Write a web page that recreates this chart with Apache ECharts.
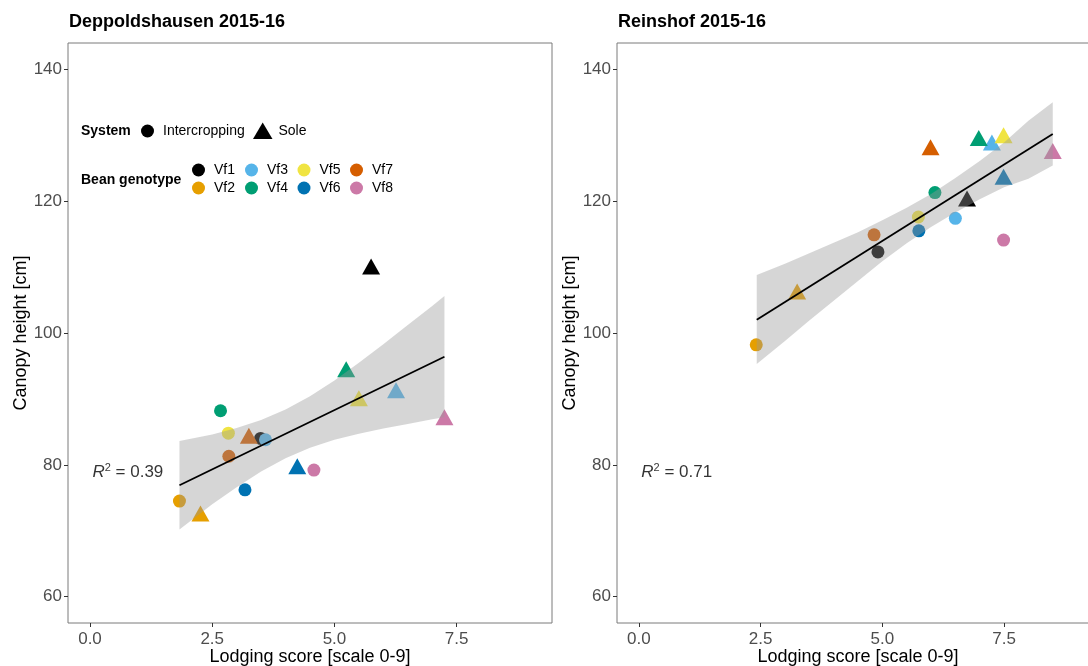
<!DOCTYPE html>
<html><head><meta charset="utf-8">
<script src="https://cdn.jsdelivr.net/npm/echarts@6/dist/echarts.min.js"></script>
<style>html,body{margin:0;padding:0;background:#fff}#c{width:1088px;height:666px}</style>
</head><body><div id="c"></div>
<script>
// ---- data ----
const panelTitles = ['Deppoldshausen 2015-16', 'Reinshof 2015-16'];
const genotypes = ['Vf1','Vf2','Vf3','Vf4','Vf5','Vf6','Vf7','Vf8'];
const genoColors = ['#000000','#E69F00','#56B4E9','#009E73','#F0E442','#0072B2','#D55E00','#CC79A7'];
const xTicks = [0, 2.5, 5, 7.5];
const yTicks = [60, 80, 100, 120, 140];

// Deppoldshausen
const depIntX  = [3.49, 1.83, 3.59, 2.67, 2.83, 3.17, 2.84, 4.58];
const depIntY  = [84.0, 74.5, 83.8, 88.2, 84.8, 76.2, 81.3, 79.2];
const depSoleX = [5.75, 2.26, 6.26, 5.24, 5.50, 4.24, 3.25, 7.25];
const depSoleY = [110.1, 72.6, 91.3, 94.5, 90.1, 79.8, 84.4, 87.2];
const depFitX  = [1.83, 7.25];
const depFitY  = [76.9, 96.4];
const depBandX = [1.83, 2.5, 3.0, 3.5, 4.0, 4.5, 5.0, 5.5, 6.0, 6.5, 7.0, 7.25];
const depBandLo = [70.2, 74.0, 76.6, 79.0, 81.0, 82.6, 83.8, 84.7, 85.5, 86.2, 86.9, 87.2];
const depBandHi = [83.6, 84.6, 85.6, 86.8, 88.4, 90.4, 92.8, 95.5, 98.3, 101.2, 104.1, 105.6];
const depR2 = '0.39';

// Reinshof
const reiIntX  = [4.91, 2.41, 6.50, 6.08, 5.74, 5.75, 4.83, 7.49];
const reiIntY  = [112.3, 98.2, 117.4, 121.3, 117.6, 115.5, 114.9, 114.1];
const reiSoleX = [6.74, 3.25, 7.25, 6.98, 7.49, 7.49, 5.99, 8.50];
const reiSoleY = [120.4, 106.3, 128.9, 129.6, 130.0, 123.7, 128.2, 127.6];
const reiFitX  = [2.42, 8.5];
const reiFitY  = [102.0, 130.2];
const reiBandX = [2.42, 3.0, 3.5, 4.0, 4.5, 5.0, 5.5, 6.0, 6.5, 7.0, 7.5, 8.0, 8.5];
const reiBandLo = [95.3, 98.8, 101.9, 104.9, 107.9, 110.9, 113.6, 116.1, 118.3, 120.3, 122.1, 123.4, 125.4];
const reiBandHi = [108.8, 110.5, 112.1, 113.7, 115.3, 117.1, 119.0, 121.1, 123.5, 126.1, 128.9, 132.2, 135.0];
const reiR2 = '0.71';

// ---- chart ----
const FONT = '"Liberation Sans", Arial, Helvetica, sans-serif';
const chart = echarts.init(document.getElementById('c'), null, {renderer: 'canvas'});

function mkX(gi) {
  return {
    gridIndex: gi, type: 'value', min: -0.45, max: 9.45,
    axisLine: {show: false, onZero: false}, splitLine: {show: false},
    axisTick: {show: true, customValues: xTicks, length: 4, lineStyle: {color: '#333', width: 1}},
    axisLabel: {customValues: xTicks, formatter: v => Number(v).toFixed(1), color: '#4d4d4d',
      fontSize: 17, fontFamily: FONT, margin: 8},
    name: 'Lodging score [scale 0-9]', nameLocation: 'middle', nameGap: 25, nameMoveOverlap: false,
    nameTextStyle: {color: '#000', fontSize: 18, fontFamily: FONT}
  };
}
function mkY(gi) {
  return {
    gridIndex: gi, type: 'value', min: 56, max: 144,
    axisLine: {show: false, onZero: false}, splitLine: {show: false},
    axisTick: {show: true, customValues: yTicks, length: 4, lineStyle: {color: '#333', width: 1}},
    axisLabel: {customValues: yTicks, color: '#4d4d4d', fontSize: 17, fontFamily: FONT, margin: 6},
    name: 'Canopy height [cm]', nameLocation: 'middle', nameGap: 38, nameMoveOverlap: false,
    nameTextStyle: {color: '#000', fontSize: 18, fontFamily: FONT}
  };
}
function scatter(gi, xs, ys, symbol, size) {
  return {
    type: 'scatter', xAxisIndex: gi, yAxisIndex: gi, z: 2, symbol: symbol, symbolSize: size,
    silent: true,
    data: xs.map((x, i) => ({value: [x, ys[i]], name: genotypes[i],
      itemStyle: {color: genoColors[i], opacity: 1}}))
  };
}
function ribbon(gi, xs, lo, hi) {
  return {
    type: 'custom', xAxisIndex: gi, yAxisIndex: gi, z: 3, silent: true,
    data: xs.map((x, i) => [x, lo[i], hi[i]]),
    encode: {x: 0, y: [1, 2]},
    renderItem: function (params, api) {
      if (params.dataIndex !== 0) return null;
      const pts = [];
      for (let i = 0; i < xs.length; i++) pts.push(api.coord([xs[i], hi[i]]));
      for (let i = xs.length - 1; i >= 0; i--) pts.push(api.coord([xs[i], lo[i]]));
      return {type: 'polygon', shape: {points: pts}, style: {fill: '#999999', opacity: 0.4}};
    }
  };
}
function fit(gi, xs, ys) {
  return {
    type: 'line', xAxisIndex: gi, yAxisIndex: gi, z: 4, silent: true, symbol: 'none',
    data: xs.map((x, i) => [x, ys[i]]), lineStyle: {color: '#000', width: 1.8}
  };
}
function r2label(gi, x, y, txt) {
  return {
    type: 'scatter', xAxisIndex: gi, yAxisIndex: gi, z: 5, silent: true, symbolSize: 0,
    data: [[x, y]],
    label: {show: true, position: 'right', distance: 0,
      formatter: '{r|R}{s|2}{n| = ' + txt + '}',
      rich: {
        r: {fontStyle: 'italic', fontSize: 17, fontFamily: FONT, color: '#000', lineHeight: 20},
        s: {fontSize: 11, fontFamily: FONT, color: '#000', verticalAlign: 'top', lineHeight: 20, padding: [0, 0, 10, 0]},
        n: {fontSize: 17, fontFamily: FONT, color: '#000', lineHeight: 20}
      }}
  };
}

const gridStyle = {show: true, borderColor: '#7a7a7a', borderWidth: 1, backgroundColor: 'transparent',
  containLabel: false, outerBoundsMode: 'none'};

// legend graphics
const leg = [];
const lt = {fontFamily: FONT, fontSize: 14, fill: '#000', verticalAlign: 'middle'};
leg.push({type: 'text', x: 81, y: 131, style: Object.assign({}, lt, {text: 'System', fontWeight: 'bold'})});
leg.push({type: 'circle', shape: {cx: 147.5, cy: 131, r: 6.5}, style: {fill: '#000'}});
leg.push({type: 'text', x: 163, y: 131, style: Object.assign({}, lt, {text: 'Intercropping'})});
leg.push({type: 'polygon', shape: {points: [[253, 139], [272.5, 139], [262.7, 122.5]]}, style: {fill: '#000'}});
leg.push({type: 'text', x: 278.5, y: 131, style: Object.assign({}, lt, {text: 'Sole'})});
leg.push({type: 'text', x: 81, y: 180, style: Object.assign({}, lt, {text: 'Bean genotype', fontWeight: 'bold'})});
const colX = [198.5, 251.5, 304, 356.5], rowY = [170, 188];
genotypes.forEach((g, i) => {
  const cx = colX[Math.floor(i / 2)], cy = rowY[i % 2];
  leg.push({type: 'circle', shape: {cx: cx, cy: cy, r: 6.5}, style: {fill: genoColors[i]}});
  leg.push({type: 'text', x: cx + 15.5, y: cy, style: Object.assign({}, lt, {text: g})});
});

chart.setOption({
  animation: false,
  backgroundColor: '#fff',
  title: [
    {text: panelTitles[0], left: 69, top: 13, padding: 0, textStyle: {fontSize: 18, fontWeight: 'bold', color: '#000', fontFamily: FONT}},
    {text: panelTitles[1], left: 618, top: 13, padding: 0, textStyle: {fontSize: 18, fontWeight: 'bold', color: '#000', fontFamily: FONT}}
  ],
  grid: [
    Object.assign({left: 68, top: 43, width: 484, height: 580}, gridStyle),
    Object.assign({left: 617, top: 43, width: 482, height: 580}, gridStyle)
  ],
  xAxis: [mkX(0), mkX(1)],
  yAxis: [mkY(0), mkY(1)],
  series: [
    scatter(0, depIntX, depIntY, 'circle', 13),
    scatter(0, depSoleX, depSoleY, 'triangle', [18, 16]),
    ribbon(0, depBandX, depBandLo, depBandHi),
    fit(0, depFitX, depFitY),
    r2label(0, 0.05, 78.9, depR2),
    scatter(1, reiIntX, reiIntY, 'circle', 13),
    scatter(1, reiSoleX, reiSoleY, 'triangle', [18, 16]),
    ribbon(1, reiBandX, reiBandLo, reiBandHi),
    fit(1, reiFitX, reiFitY),
    r2label(1, 0.05, 78.9, reiR2)
  ],
  graphic: leg
});
</script></body></html>
